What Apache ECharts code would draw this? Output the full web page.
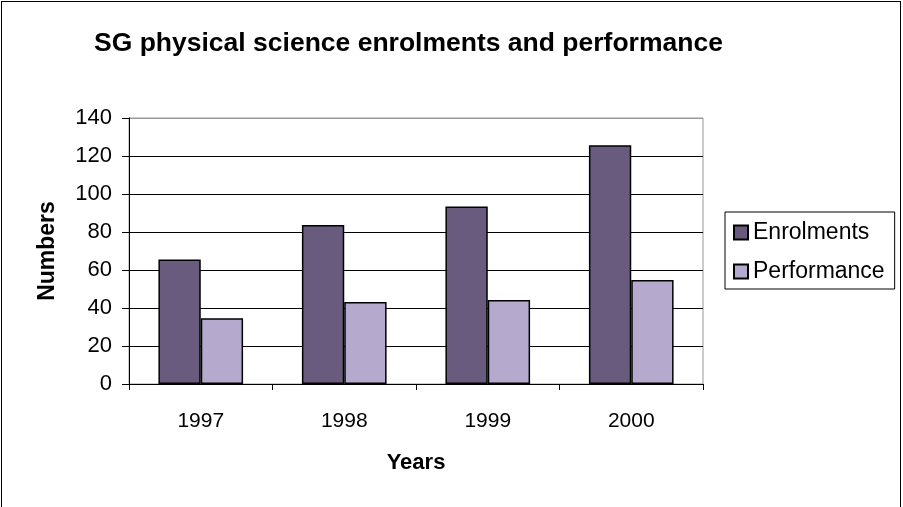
<!DOCTYPE html>
<html>
<head>
<meta charset="utf-8">
<script src="https://cdn.jsdelivr.net/npm/echarts@6/dist/echarts.min.js"></script>
<style>
  html, body { margin: 0; padding: 0; background: #fff; }
  #frame { position: absolute; left: 1px; top: 1px; width: 900px; height: 506px; box-sizing: border-box;
           border: 1px solid #000; border-bottom: none; }
  #main { width: 903px; height: 507px; }
</style>
</head>
<body>
<div id="main"></div>
<div id="frame"></div>
<script>
// values
const years = ['1997', '1998', '1999', '2000'];
const enrolments = [65.5, 83.7, 93.4, 125.6];
const performance = [34.6, 43.2, 44.2, 54.7];

const chart = echarts.init(document.getElementById('main'), null, { renderer: 'canvas' });
const font = '"Liberation Sans", Arial, sans-serif';

const option = {
  backgroundColor: '#fff',
  animation: false,
  textStyle: { fontFamily: font },
  title: {
    text: 'SG physical science enrolments and performance',
    left: 89, top: 25,
    textStyle: { fontFamily: font, fontSize: 26.5, fontWeight: 'bold', color: '#000' }
  },
  legend: {
    orient: 'vertical',
    left: 725, top: 212,
    padding: [9, 10, 6, 8],
    itemGap: 16,
    itemWidth: 14, itemHeight: 14,
    icon: 'rect',
    borderColor: '#000', borderWidth: 1,
    textStyle: { fontFamily: font, fontSize: 23, color: '#000' },
    data: ['Enrolments', 'Performance']
  },
  grid: { left: 129, right: 200, top: 118, bottom: 123, show: true, borderColor: '#999', borderWidth: 1 },
  xAxis: {
    type: 'category',
    data: years,
    name: 'Years',
    nameLocation: 'middle',
    nameGap: 68,
    nameTextStyle: { fontFamily: font, fontSize: 22, fontWeight: 'bold', color: '#000' },
    axisLine: { lineStyle: { color: '#000', width: 1 } },
    axisTick: { show: true, length: 6, lineStyle: { color: '#000' } },
    axisLabel: { fontFamily: font, fontSize: 21, color: '#000', margin: 27 }
  },
  yAxis: {
    type: 'value',
    min: 0, max: 140, interval: 20,
    name: 'Numbers',
    nameLocation: 'middle',
    nameGap: 70,
    nameTextStyle: { fontFamily: font, fontSize: 23, fontWeight: 'bold', color: '#000' },
    axisLine: { show: true, lineStyle: { color: '#000', width: 1 } },
    axisTick: { show: true, length: 7, lineStyle: { color: '#000' } },
    axisLabel: { fontFamily: font, fontSize: 22, color: '#000', margin: 17 },
    splitLine: { show: true, lineStyle: { color: ['#000', '#000', '#000', '#000', '#000', '#000', '#000', '#999'], width: 1 } }
  },
  series: [
    {
      name: 'Enrolments', type: 'bar', data: enrolments,
      barGap: '0%', barCategoryGap: '41%',
      itemStyle: { color: '#685b7d', borderColor: '#000', borderWidth: 1.5 }
    },
    {
      name: 'Performance', type: 'bar', data: performance,
      itemStyle: { color: '#b5a9cd', borderColor: '#000', borderWidth: 1.5 }
    }
  ]
};

chart.setOption(option);
</script>
</body>
</html>
